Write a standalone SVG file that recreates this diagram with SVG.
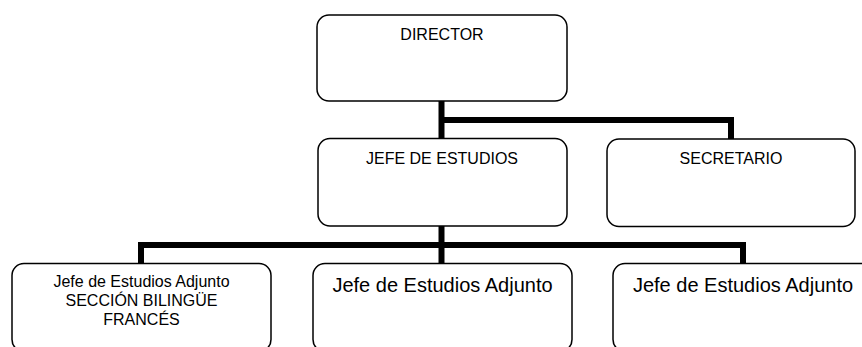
<svg xmlns="http://www.w3.org/2000/svg" width="862" height="347" viewBox="0 0 862 347">
<style>
.box{fill:#fff;stroke:#000;stroke-width:1.5}
.con{fill:none;stroke:#000;stroke-width:6;stroke-linejoin:miter;stroke-linecap:butt}
text{font-family:"Liberation Sans",Arial,sans-serif;fill:#000;text-anchor:middle}
.t16{font-size:16px}
.t20{font-size:20px}
</style>
<rect width="862" height="347" fill="#fff"/>
<g id="connectors">
<path class="con" d="M441.5,101 V138"/>
<path class="con" d="M441.5,120 H731 V139"/>
<path class="con" d="M441.5,226 V263"/>
<path class="con" d="M141,264 V245 H743 V264"/>
</g>
<g id="director">
<rect class="box" x="317" y="15" width="250" height="86" rx="12"/>
<text class="t16" x="442" y="40">DIRECTOR</text>
</g>
<g id="jefe-estudios">
<rect class="box" x="318" y="138.5" width="249" height="87.5" rx="12"/>
<text class="t16" x="442" y="164">JEFE DE ESTUDIOS</text>
</g>
<g id="secretario">
<rect class="box" x="607" y="139" width="248" height="87.5" rx="12"/>
<text class="t16" x="731" y="164">SECRETARIO</text>
</g>
<g id="adjunto-frances">
<rect class="box" x="12" y="263.5" width="259" height="88" rx="12"/>
<text class="t16" x="141.5" y="287">Jefe de Estudios Adjunto</text>
<text class="t16" x="141.5" y="306">SECCIÓN BILINGÜE</text>
<text class="t16" x="141.5" y="325">FRANCÉS</text>
</g>
<g id="adjunto-2">
<rect class="box" x="313" y="263.5" width="259" height="88" rx="12"/>
<text class="t20" x="442.5" y="292">Jefe de Estudios Adjunto</text>
</g>
<g id="adjunto-3">
<rect class="box" x="613" y="263.5" width="260" height="88" rx="12"/>
<text class="t20" x="743" y="292">Jefe de Estudios Adjunto</text>
</g>
</svg>
